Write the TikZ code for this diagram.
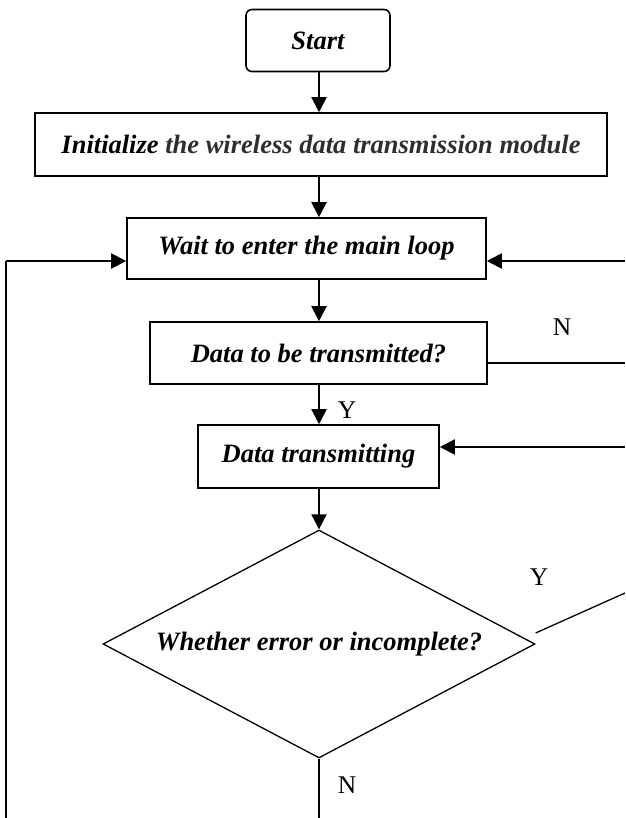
\documentclass[tikz,border=0pt]{standalone}
\usepackage{fontspec}
\setmainfont{Liberation Serif}
\usetikzlibrary{arrows.meta,shapes.geometric}
\begin{document}
\begin{tikzpicture}[x=1pt,y=1pt,
  proc/.style={draw, line width=1.6pt, inner sep=0pt, font=\fontsize{26.5}{30}\selectfont\bfseries\itshape},
  arr/.style={line width=2pt, -{Triangle[length=15pt,width=15pt]}},
  thinline/.style={line width=1.3pt},
  lbl/.style={font=\fontsize{25.5}{30}\selectfont, inner sep=0pt}]
\useasboundingbox (0,0) rectangle (625,-818);
\node[proc, rounded corners=6pt, minimum width=144pt, minimum height=62pt] (start) at (318,-40.5) {Start};
\node[proc, minimum width=572pt, minimum height=63pt] (init) at (321,-144.5) {Initialize \textcolor{black!82}{the wireless data transmission module}};
\node[proc, minimum width=359pt, minimum height=61pt] (wait) at (306.5,-248.5) {Wait to enter the main loop};
\node[proc, minimum width=337pt, minimum height=62pt] (dtt) at (318.5,-353) {Data to be transmitted?};
\node[proc, minimum width=241pt, minimum height=63pt] (dtx) at (318.5,-456.5) {Data transmitting};
\node[proc, diamond, line width=1.3pt, aspect=1.9, minimum width=432pt, minimum height=228pt] (err) at (319,-644) {Whether error or incomplete?};
\coordinate (cx) at (319,0);
\draw[arr] (cx |- start.south) -- (cx |- init.north);
\draw[arr] (cx |- init.south) -- (cx |- wait.north);
\draw[arr] (cx |- wait.south) -- (cx |- dtt.north);
\draw[arr] (cx |- dtt.south) -- (cx |- dtx.north);
\draw[arr] (cx |- dtx.south) -- (err.north);
\coordinate (bot) at (319,-818);
\draw[thinline] (err.south) -- (bot);
\coordinate (lb) at (6,-818);
\coordinate (lt) at (6,-261);
\draw[thinline] (lb) -- (lt);
\draw[arr] (lt) -- (lt -| wait.west);
\coordinate (r1) at (625,-261);
\draw[arr] (r1) -- (r1 -| wait.east);
\coordinate (r2) at (625,-363);
\draw[thinline] (r2 -| dtt.east) -- (r2);
\coordinate (r3) at (625,-447);
\draw[arr] (r3) -- (r3 -| dtx.east);
\coordinate (r4) at (625,-593);
\draw[thinline] ([yshift=11pt]err.east) -- (r4);
\node[lbl] (n1) at (562,-327) {N};
\node[lbl] (y1) at (347,-410) {Y};
\node[lbl] (y2) at (539,-577) {Y};
\node[lbl] (n2) at (347,-785) {N};
\end{tikzpicture}
\end{document}
